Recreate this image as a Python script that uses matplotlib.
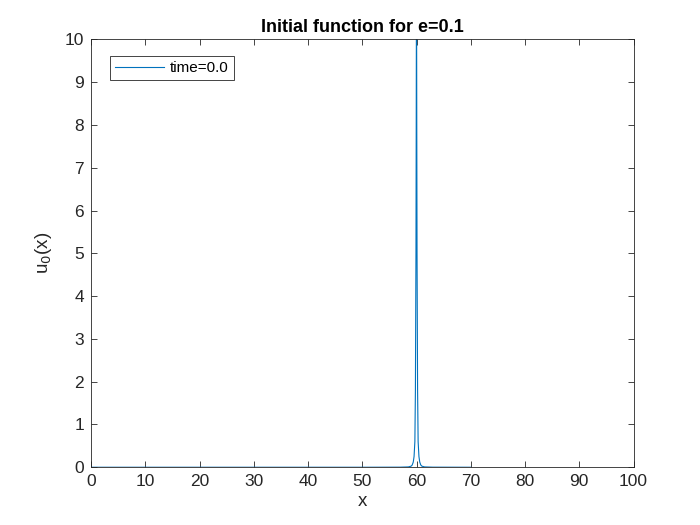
import matplotlib.pyplot as plt

plt.rcParams['font.family'] = ['Liberation Sans', 'DejaVu Sans']

# offsets from the peak (x=60) and the values
peak = 60
dx = [60.0, 10.0, 3.0, 1.5, 1.0, 0.8, 0.6, 0.45, 0.3, 0.2, 0.1, 0.05, 0.0]
du = [0.0, 0.0, 0.002, 0.008, 0.025, 0.05, 0.12, 0.25, 0.6, 1.8, 5.0, 8.0, 12.0]

xs = [peak - d for d in dx] + [peak + d for d in reversed(dx[:-1])]
us = du + list(reversed(du[:-1]))
pts = [(x, u) for x, u in zip(xs, us) if 0 <= x <= 100]
xs = [p[0] for p in pts]
us = [p[1] for p in pts]

x_ticks = list(range(0, 101, 10))
y_ticks = list(range(0, 11))

fig = plt.figure(figsize=(7, 5.25), dpi=100)
ax = fig.add_axes([0.13, 0.11, 0.775, 0.815])
ax.plot(xs, us, color='#0072BD', lw=0.8, label='time=0.0')
ax.set_xlim(0, 100)
ax.set_ylim(0, 10)
ax.set_xticks(x_ticks)
ax.set_yticks(y_ticks)
ax.tick_params(direction='in', top=True, right=True, labelsize=12.5, colors='#262626',
               length=4, width=0.6, pad=5)
for s in ax.spines.values():
    s.set_linewidth(0.6)
    s.set_color('#262626')
ax.set_title('Initial function for e=0.1', fontsize=13, fontweight='bold', pad=5)
ax.set_xlabel('x', fontsize=13.5, color='#262626', labelpad=3)
ax.set_ylabel('u$_0$(x)', fontsize=13.5, color='#262626', labelpad=8)
leg = ax.legend(loc='upper left', bbox_to_anchor=(0.035, 0.962), fancybox=False, fontsize=11,
                handlelength=3.2, handletextpad=0.35, borderpad=0.35, borderaxespad=0,
                framealpha=1)
leg.get_frame().set_edgecolor('#262626')
leg.get_frame().set_linewidth(0.6)

fig.savefig('out.png', dpi=100)
